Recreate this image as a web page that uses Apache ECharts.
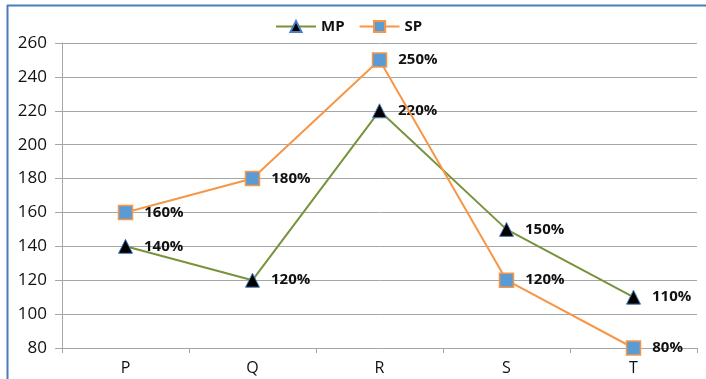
<!DOCTYPE html>
<html>
<head>
<meta charset="utf-8">
<script src="https://cdn.jsdelivr.net/npm/echarts@6/dist/echarts.min.js"></script>
<style>
  html, body { margin: 0; padding: 0; background: #fff; }
  #chart { width: 706px; height: 379px; }
</style>
</head>
<body>
<div id="chart"></div>
<script>
// categories and values
const categories = ['P', 'Q', 'R', 'S', 'T'];
const mpValues = [140, 120, 220, 150, 110];
const spValues = [160, 180, 250, 120, 80];
const yTicks = { min: 80, max: 260, step: 20 };

const font = '"Open Sans", "DejaVu Sans", sans-serif';

const chart = echarts.init(document.getElementById('chart'));

const labelStyle = {
  show: true,
  position: 'right',
  distance: 11,
  formatter: '{c}%',
  color: '#111',
  fontWeight: 'bold',
  fontSize: 15,
  fontFamily: font
};

chart.setOption({
  animation: false,
  // blue frame (top and left edges show in the crop)
  graphic: [
    { type: 'line', shape: { x1: 7, y1: 5.5, x2: 706, y2: 5.5 }, style: { stroke: '#4a7ebb', lineWidth: 2 } },
    { type: 'line', shape: { x1: 7.5, y1: 5, x2: 7.5, y2: 379 }, style: { stroke: '#4a7ebb', lineWidth: 2 } }
  ],
  legend: {
    top: 14,
    left: 270,
    itemWidth: 40,
    itemHeight: 14,
    itemGap: 14,
    textStyle: { fontFamily: font, fontSize: 15, fontWeight: 'bold', color: '#111' },
    data: ['MP', 'SP']
  },
  grid: { left: 62, right: 9, top: 43, bottom: 31, containLabel: false },
  xAxis: {
    type: 'category',
    data: categories,
    boundaryGap: true,
    axisLine: { lineStyle: { color: '#a6a6a6', width: 1 } },
    axisTick: { show: true, length: 5, lineStyle: { color: '#a6a6a6' } },
    axisLabel: { color: '#111', fontSize: 16, fontFamily: font, margin: 12 }
  },
  yAxis: {
    type: 'value',
    min: yTicks.min,
    max: yTicks.max,
    interval: yTicks.step,
    axisLine: { show: true, lineStyle: { color: '#a6a6a6' } },
    axisTick: { show: true, inside: false, length: 7, lineStyle: { color: '#a6a6a6' } },
    axisLabel: { color: '#111', fontSize: 17, fontFamily: font, margin: 15 },
    splitLine: { show: true, lineStyle: { color: '#a6a6a6', width: 1 } }
  },
  series: [
    {
      name: 'MP',
      type: 'line',
      data: mpValues,
      symbol: 'triangle',
      symbolSize: 14,
      lineStyle: { color: '#77933c', width: 2 },
      itemStyle: { color: '#000', borderColor: '#4a7ebb', borderWidth: 1 },
      label: labelStyle,
      z: 3
    },
    {
      name: 'SP',
      type: 'line',
      data: spValues,
      symbol: 'rect',
      symbolSize: 14,
      lineStyle: { color: '#f79646', width: 2 },
      itemStyle: { color: '#5b9bd5', borderColor: '#f79646', borderWidth: 1.5 },
      label: labelStyle,
      z: 4
    }
  ]
});
</script>
</body>
</html>
